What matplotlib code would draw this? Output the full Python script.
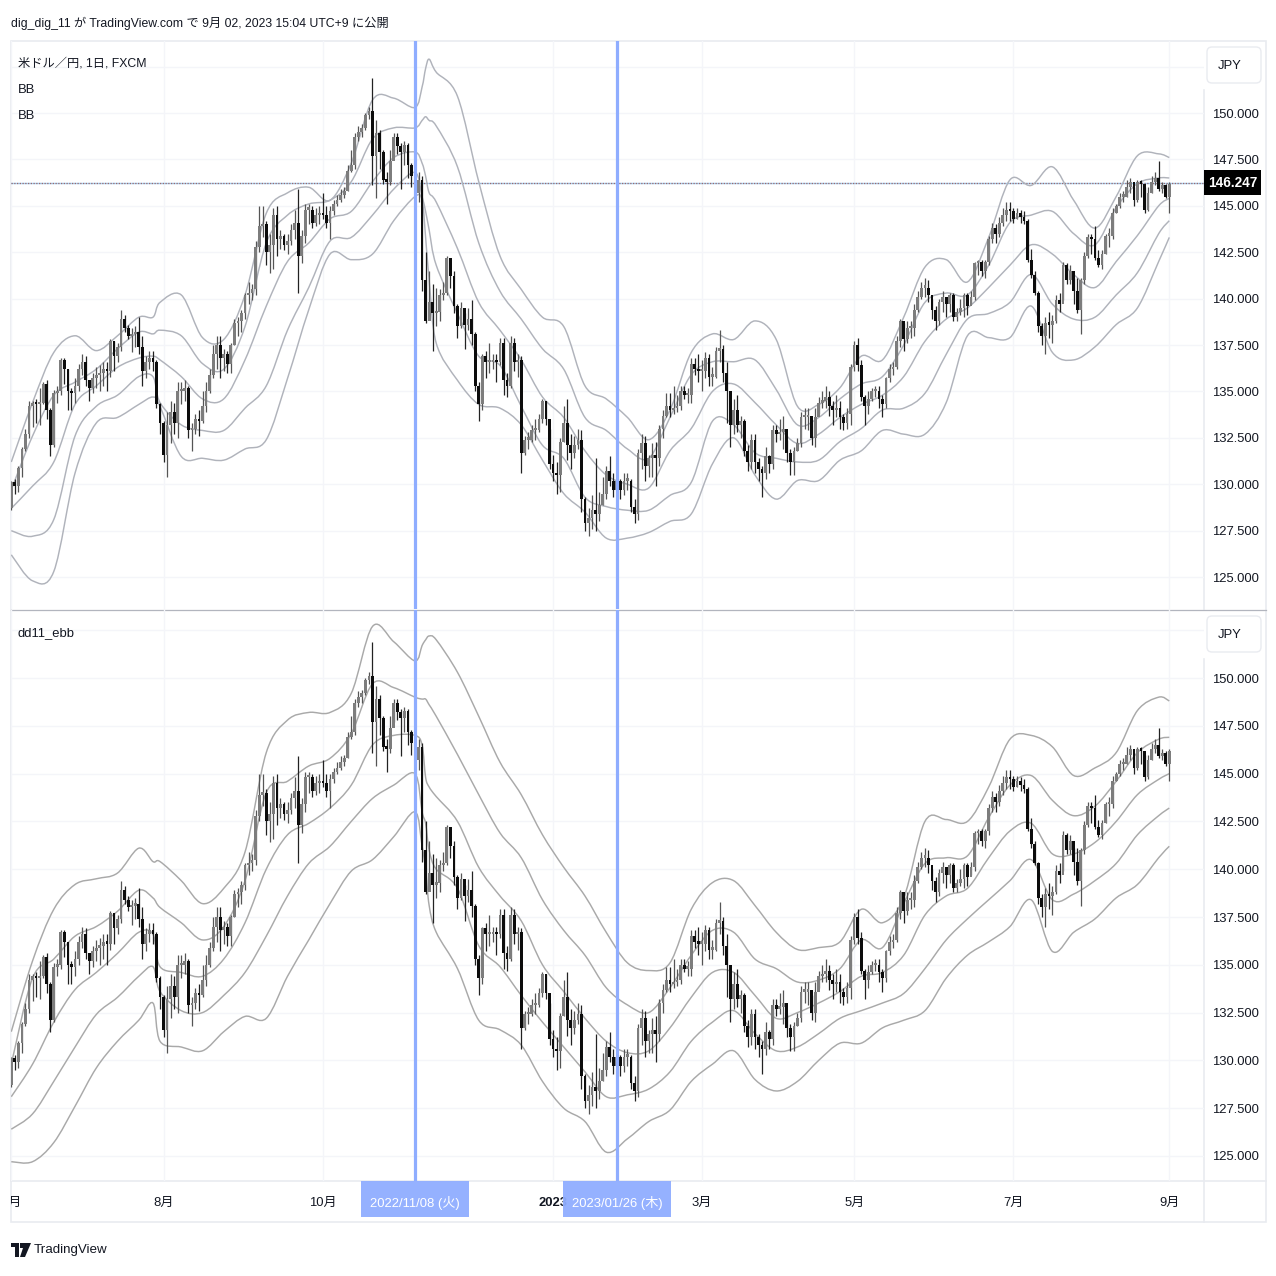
import matplotlib
matplotlib.use("Agg")
import matplotlib.pyplot as plt
from matplotlib.patches import FancyBboxPatch, PathPatch, Polygon, Rectangle
from matplotlib.path import Path

## Font (latin first, CJK for the japanese signs)
FONT = ['Liberation Sans', 'Noto Sans CJK JP', 'DejaVu Sans']
plt.rcParams['font.family'] = FONT

## Daily candles, USD/JPY, price units
first_open = 128.7
closes = [
    130.1, 129.9, 130.9, 131.9, 132.7, 134.2, 134.4, 134.3, 134.4, 135.4, 134.0, 132.1, 134.9, 135.0, 136.7, 136.2,
    135.0, 134.9, 135.3, 136.2, 136.6, 135.6, 135.2, 135.7, 135.9, 136.0, 136.2, 136.1, 137.7, 136.9, 137.4, 138.9,
    138.4, 138.0, 138.1, 138.2, 137.4, 136.1, 136.6, 136.8, 136.6, 134.3, 133.3, 131.6, 133.2, 133.9, 133.3, 135.0,
    135.0, 135.2, 132.9, 133.0, 133.5, 133.4, 134.2, 135.0, 135.9, 137.0, 137.5, 136.8, 137.0, 136.5, 137.5, 138.7,
    138.8, 139.2, 140.2, 140.3, 140.5, 142.8, 143.9, 144.0, 142.5, 142.9, 144.5, 143.2, 143.4, 142.9, 143.1, 143.7,
    144.1, 142.3, 143.4, 144.8, 144.8, 144.1, 144.5, 144.6, 144.5, 144.1, 144.7, 145.1, 145.3, 145.6, 145.8, 146.9,
    147.2, 148.7, 149.0, 149.2, 149.9, 150.1, 147.7, 148.9, 147.9, 146.4, 146.3, 147.4, 148.7, 148.2, 147.9, 148.3,
    147.2, 146.6, 145.7, 146.4, 141.0, 138.8, 139.8, 139.2, 139.3, 140.2, 140.3, 142.2, 141.2, 139.6, 138.5, 139.5,
    138.6, 138.9, 138.1, 135.3, 134.3, 136.9, 136.6, 136.6, 136.7, 136.6, 137.6, 135.6, 135.3, 137.6, 136.6, 136.7,
    131.7, 132.4, 132.4, 132.9, 132.9, 133.5, 134.5, 133.5, 131.1, 130.6, 130.5, 132.3, 133.3, 132.1, 131.7, 132.1,
    132.4, 129.2, 127.9, 128.2, 128.6, 128.4, 128.9, 129.5, 130.7, 130.2, 129.7, 130.2, 129.7, 130.2, 130.2, 128.8,
    128.4, 131.7, 132.2, 131.0, 131.4, 131.6, 131.4, 133.0, 133.7, 134.2, 134.0, 134.1, 134.2, 135.0, 134.8, 134.8,
    136.5, 136.2, 136.1, 136.1, 136.8, 135.8, 135.8, 137.2, 137.3, 136.0, 135.0, 133.2, 134.0, 133.2, 133.4, 131.8,
    131.2, 132.4, 131.2, 130.8, 130.6, 131.5, 131.1, 132.9, 132.7, 132.8, 133.0, 131.7, 131.2, 131.8, 132.2, 133.6,
    133.6, 133.7, 132.5, 133.6, 134.4, 134.5, 134.7, 134.2, 134.0, 134.1, 133.6, 133.3, 133.8, 136.3, 137.5, 136.4,
    134.7, 134.2, 134.6, 135.0, 135.0, 134.6, 134.3, 135.7, 136.2, 136.3, 137.7, 138.8, 137.8, 138.4, 138.4, 139.4,
    140.1, 140.6, 140.6, 140.2, 139.4, 138.8, 139.8, 140.1, 139.7, 140.2, 139.0, 139.3, 139.5, 140.2, 139.6, 140.1,
    141.9, 142.0, 141.5, 142.0, 143.2, 143.8, 143.5, 144.1, 144.5, 144.8, 144.7, 144.3, 144.6, 144.4, 144.2, 142.1,
    141.3, 140.3, 138.5, 138.0, 138.7, 138.6, 138.8, 139.9, 139.7, 141.8, 141.0, 141.5, 140.4, 139.4, 141.0, 142.3,
    143.3, 143.2, 142.2, 141.8, 142.4, 143.4, 143.4, 144.6, 145.0, 145.5, 145.5, 146.0, 146.3, 145.3, 146.3, 146.2,
    144.8, 145.7, 146.3, 146.5, 145.9, 146.1, 145.5, 146.2,
]
highs = [
    130.2, 130.3, 131.0, 132.0, 133.0, 134.5, 134.5, 134.6, 135.2, 135.5, 135.6, 134.1, 135.1, 135.3, 136.8, 136.8,
    136.2, 135.2, 135.7, 136.5, 137.0, 136.9, 135.6, 136.0, 136.3, 136.4, 136.6, 136.6, 137.8, 137.7, 137.6, 139.4,
    139.1, 138.6, 138.4, 138.5, 139.0, 138.0, 136.9, 137.2, 137.2, 136.7, 134.4, 133.4, 133.9, 134.5, 134.4, 135.5,
    135.5, 135.6, 135.3, 133.3, 133.8, 134.0, 135.0, 135.5, 136.2, 137.5, 138.0, 138.0, 137.3, 137.2, 137.6, 138.9,
    139.0, 139.4, 140.3, 140.9, 140.8, 143.1, 145.0, 145.0, 144.2, 143.5, 144.9, 145.0, 143.7, 143.5, 143.5, 144.0,
    144.8, 145.9, 143.7, 145.1, 145.1, 145.0, 144.9, 145.0, 145.7, 145.0, 145.0, 145.3, 145.6, 145.9, 146.0, 147.2,
    148.0, 148.9, 149.3, 149.4, 150.0, 150.3, 151.9, 149.6, 149.1, 148.0, 146.8, 148.0, 148.9, 148.9, 148.4, 148.5,
    148.4, 147.3, 146.9, 146.8, 146.6, 142.5, 141.5, 140.8, 140.6, 140.5, 140.9, 142.3, 142.2, 141.5, 139.7, 139.8,
    139.2, 139.5, 139.9, 138.2, 135.5, 137.0, 137.2, 137.6, 137.0, 137.0, 137.9, 137.9, 136.0, 138.0, 137.9, 137.0,
    136.9, 132.6, 132.8, 133.2, 133.5, 133.8, 134.6, 134.5, 133.0, 131.6, 131.2, 132.5, 134.2, 134.6, 132.7, 132.6,
    133.0, 132.9, 129.3, 128.7, 129.4, 131.4, 129.6, 130.4, 131.0, 131.5, 130.6, 130.8, 130.3, 130.6, 130.6, 130.3,
    129.2, 131.9, 132.7, 132.6, 131.6, 132.2, 132.3, 133.2, 134.0, 134.9, 134.9, 135.3, 134.8, 135.3, 135.3, 135.2,
    136.8, 136.8, 137.0, 136.7, 137.1, 137.0, 136.3, 137.4, 138.3, 137.5, 136.6, 134.6, 134.6, 134.8, 133.7, 133.5,
    132.1, 132.7, 132.7, 131.4, 131.0, 132.0, 131.6, 133.2, 133.2, 133.5, 133.7, 132.4, 131.9, 132.0, 132.5, 133.9,
    134.1, 134.1, 133.4, 134.1, 134.7, 135.0, 135.3, 135.0, 134.5, 134.8, 134.5, 133.8, 134.1, 136.5, 137.7, 137.9,
    136.7, 134.8, 135.0, 135.2, 135.3, 135.3, 134.8, 135.8, 136.5, 136.6, 138.0, 138.9, 138.7, 138.8, 138.8, 139.7,
    140.4, 140.9, 141.1, 141.0, 140.0, 139.6, 140.0, 140.4, 140.0, 140.3, 140.3, 139.5, 140.0, 140.3, 140.3, 140.4,
    142.0, 142.1, 142.1, 142.1, 143.4, 144.1, 144.0, 144.4, 144.9, 145.2, 145.2, 144.9, 144.9, 144.8, 144.7, 144.3,
    142.7, 141.5, 140.4, 138.7, 139.0, 139.3, 139.1, 140.2, 140.3, 142.0, 141.9, 141.8, 141.1, 141.1, 141.1, 142.5,
    143.5, 143.5, 143.9, 142.6, 142.6, 143.5, 143.8, 144.9, 145.1, 145.7, 145.8, 146.4, 146.5, 146.0, 146.4, 146.4,
    146.0, 146.0, 146.6, 146.8, 147.4, 146.3, 146.2, 146.3,
]
lows = [
    128.6, 129.5, 129.6, 130.4, 131.8, 132.5, 133.1, 133.3, 133.2, 134.3, 133.5, 131.5, 132.0, 134.4, 134.8, 135.4,
    134.0, 134.0, 134.4, 135.0, 135.9, 135.3, 134.5, 134.9, 135.2, 135.0, 135.3, 135.0, 135.8, 136.1, 136.6, 137.2,
    138.2, 137.8, 137.1, 137.4, 137.0, 135.3, 135.7, 136.2, 136.1, 134.1, 132.7, 131.2, 130.4, 132.2, 132.7, 132.5,
    134.3, 134.5, 132.5, 131.8, 132.7, 132.6, 133.3, 133.9, 134.9, 135.7, 136.2, 135.7, 136.1, 136.0, 136.0, 137.5,
    138.0, 138.2, 138.9, 139.7, 139.9, 140.2, 142.5, 143.3, 141.8, 141.4, 141.6, 142.3, 142.7, 142.6, 142.4, 142.9,
    143.2, 140.3, 141.9, 143.0, 144.0, 143.8, 143.9, 144.0, 144.3, 143.8, 143.2, 144.5, 145.0, 145.2, 145.4, 145.8,
    146.8, 147.0, 148.5, 148.7, 149.1, 149.7, 146.1, 145.4, 147.0, 146.2, 145.1, 146.1, 147.7, 147.8, 145.9, 147.2,
    146.5, 146.0, 145.3, 145.2, 140.4, 138.7, 138.9, 137.2, 138.5, 138.8, 139.9, 140.2, 140.6, 139.2, 137.9, 138.4,
    137.3, 138.3, 137.5, 135.0, 133.4, 134.0, 135.7, 136.0, 136.2, 135.5, 136.4, 134.8, 134.7, 135.2, 136.1, 135.8,
    130.6, 131.6, 131.9, 132.3, 132.4, 132.8, 133.3, 133.2, 130.8, 130.2, 129.5, 129.6, 132.3, 131.3, 130.8, 131.4,
    131.9, 128.5, 127.5, 127.2, 127.6, 127.5, 128.0, 128.9, 129.2, 129.9, 129.3, 129.0, 129.2, 129.4, 129.7, 128.5,
    127.9, 128.1, 130.8, 130.2, 130.4, 130.4, 129.9, 131.0, 132.5, 133.6, 133.6, 133.8, 133.9, 134.0, 134.6, 134.4,
    134.4, 135.9, 135.5, 135.0, 135.7, 135.3, 135.3, 135.7, 136.6, 135.5, 133.3, 132.0, 132.7, 132.8, 132.5, 131.5,
    130.7, 130.8, 130.6, 130.2, 129.3, 130.3, 130.6, 130.8, 132.3, 132.4, 131.9, 131.2, 130.5, 130.5, 131.8, 132.0,
    133.0, 132.9, 132.1, 132.0, 133.8, 134.1, 134.1, 133.7, 133.2, 133.6, 133.0, 132.9, 133.0, 133.2, 136.1, 136.1,
    134.5, 133.2, 133.8, 134.5, 134.7, 134.1, 133.6, 134.1, 135.5, 135.9, 136.2, 137.4, 137.2, 137.6, 137.9, 138.0,
    139.3, 140.0, 140.1, 139.8, 138.9, 138.3, 138.6, 139.3, 139.0, 139.3, 138.8, 138.8, 139.1, 139.0, 139.1, 139.7,
    139.9, 141.3, 141.2, 141.1, 141.8, 143.0, 143.0, 143.3, 143.9, 144.2, 144.2, 144.1, 144.3, 144.1, 144.0, 142.0,
    141.1, 140.2, 138.2, 137.5, 137.0, 137.9, 137.6, 138.7, 139.3, 139.9, 140.8, 140.8, 139.7, 139.2, 138.1, 140.8,
    142.2, 142.4, 142.1, 141.7, 141.6, 142.4, 142.8, 143.2, 144.6, 144.9, 145.2, 145.5, 145.7, 145.0, 145.2, 145.5,
    144.6, 144.7, 145.7, 146.1, 145.8, 145.7, 145.4, 144.6,
]
opens = [first_open] + closes[:-1]

## Band lines, read about every 6 bars, closer around the sharp turns
band_bars = [0, 6, 12, 18, 24, 30, 36, 40, 42, 48, 54, 60, 66, 72, 78, 84, 90, 96, 102, 108, 114, 116, 117, 118,
             120, 126, 132, 138, 144, 150, 156, 162, 168, 174, 180, 186, 192, 198, 204, 210, 216, 222,
             228, 234, 240, 246, 252, 258, 264, 270, 276, 282, 288, 294, 300, 306, 312, 318, 324, 327]

top_bands = [
    [131.2, 134.4, 137.1, 138.0, 137.2, 138.0, 139.0, 139.0, 139.8, 140.2, 137.9, 137.8, 140.2, 144.6, 145.7, 146.0, 145.3, 147.3, 150.7, 150.8, 150.3, 151.4, 152.4, 152.9,
     152.2, 150.9, 146.3, 142.3, 140.5, 139.0, 138.5, 135.3, 134.6, 133.6, 132.4, 134.0, 137.1, 138.1, 137.8, 138.8, 137.8, 134.2,
     134.3, 135.2, 136.9, 136.7, 139.0, 141.7, 142.1, 140.9, 143.3, 146.4, 146.1, 147.1, 145.3, 143.8, 145.5, 147.7, 147.8, 147.6],
    [129.7, 132.6, 134.8, 135.5, 136.2, 137.3, 138.2, 138.1, 138.3, 138.0, 136.5, 136.2, 138.5, 143.0, 144.5, 145.1, 145.3, 146.3, 148.6, 149.2, 149.2, 149.6, 149.8, 149.6,
     149.3, 147.1, 143.0, 140.4, 138.9, 137.3, 136.2, 133.6, 132.9, 131.9, 131.4, 133.6, 135.9, 136.6, 136.6, 136.7, 135.1, 133.2,
     133.6, 134.6, 135.4, 135.8, 137.5, 139.8, 140.3, 140.2, 141.8, 144.1, 144.5, 144.7, 143.5, 142.9, 144.9, 146.2, 146.5, 146.5],
    [128.7, 129.9, 131.2, 134.3, 135.3, 136.3, 136.8, 136.9, 136.7, 135.8, 134.6, 134.6, 136.7, 139.6, 142.0, 143.0, 144.3, 144.7, 146.3, 147.6, 147.9, 147.3, 146.6, 145.7,
     145.2, 142.7, 139.8, 138.3, 136.7, 134.7, 133.6, 131.8, 130.5, 130.0, 129.8, 131.8, 133.0, 135.0, 135.4, 134.4, 133.2, 132.2,
     132.7, 133.6, 134.3, 134.8, 135.8, 137.7, 138.9, 139.5, 140.6, 141.8, 142.9, 142.4, 141.3, 140.6, 142.0, 143.4, 145.0, 145.4],
    [127.5, 127.2, 128.1, 132.6, 134.2, 134.8, 135.8, 135.8, 134.4, 133.2, 132.9, 132.9, 134.1, 135.3, 138.3, 140.6, 143.1, 143.3, 144.5, 145.9, 146.8, 145.5, 144.7, 143.7,
     141.8, 139.2, 136.9, 136.4, 134.2, 132.1, 131.4, 129.3, 128.8, 128.6, 128.6, 129.4, 130.1, 133.4, 133.2, 131.7, 131.4, 131.2,
     131.3, 132.3, 133.0, 134.0, 134.1, 134.9, 137.0, 138.9, 139.2, 139.8, 141.3, 139.7, 138.9, 139.0, 140.2, 141.4, 143.5, 144.2],
    [126.2, 124.8, 125.3, 130.6, 133.3, 133.6, 134.3, 134.7, 134.2, 131.5, 131.4, 131.3, 131.9, 132.4, 135.7, 139.4, 142.4, 142.1, 142.4, 144.2, 145.5, 145.3, 143.3, 141.0,
     137.6, 135.6, 134.3, 134.1, 133.2, 131.3, 129.5, 128.5, 127.1, 127.1, 127.4, 128.0, 128.4, 131.1, 132.5, 130.5, 129.2, 130.2,
     130.2, 131.3, 131.8, 132.9, 132.7, 132.7, 134.4, 138.0, 137.9, 137.9, 139.6, 137.1, 136.7, 137.4, 138.6, 139.5, 142.0, 143.3],
]

bottom_bands = [
    [131.5, 135.2, 137.9, 139.2, 139.5, 139.8, 141.1, 140.4, 140.4, 139.4, 138.2, 139.0, 140.9, 146.1, 147.8, 148.2, 148.2, 149.2, 152.7, 151.9, 150.9, 151.7, 152.0, 152.2,
     152.0, 150.3, 148.0, 145.6, 143.9, 141.8, 140.1, 138.6, 136.7, 135.1, 134.7, 135.1, 137.9, 139.3, 139.4, 138.1, 136.7, 135.8,
     135.9, 136.2, 137.9, 137.2, 138.5, 142.5, 142.6, 142.5, 144.3, 146.8, 147.0, 146.4, 144.9, 145.3, 146.1, 148.3, 149.0, 148.8],
    [129.8, 134.3, 135.3, 136.5, 137.0, 137.8, 138.9, 138.5, 138.0, 137.2, 136.3, 137.0, 139.4, 144.0, 144.6, 145.4, 145.8, 147.1, 149.7, 149.5, 149.0, 148.9, 148.9, 148.6,
     148.0, 146.0, 143.9, 141.9, 140.6, 138.4, 136.8, 135.5, 133.8, 132.9, 132.5, 133.8, 135.5, 136.8, 136.7, 135.3, 134.8, 134.1,
     134.2, 134.8, 136.3, 135.9, 138.2, 140.3, 140.6, 140.7, 142.7, 144.4, 144.9, 143.6, 142.8, 143.3, 144.6, 146.1, 146.8, 146.9],
    [128.1, 129.8, 132.0, 133.7, 134.6, 135.6, 136.7, 136.6, 134.9, 134.6, 134.4, 135.3, 137.2, 140.0, 141.8, 142.4, 143.2, 144.4, 146.5, 147.0, 147.0, 146.5, 144.8, 144.3,
     143.8, 142.5, 140.1, 138.6, 137.3, 135.0, 133.6, 132.2, 131.0, 130.4, 130.5, 131.7, 133.3, 134.6, 134.6, 133.4, 132.2, 132.5,
     133.0, 133.6, 134.4, 134.6, 135.5, 137.6, 138.6, 139.0, 140.6, 142.0, 142.4, 140.8, 140.8, 141.4, 142.5, 143.9, 144.7, 145.0],
    [126.4, 127.2, 128.9, 130.7, 132.4, 133.3, 134.4, 134.9, 133.6, 132.6, 132.5, 133.4, 134.6, 136.5, 138.6, 140.3, 141.2, 142.5, 143.7, 144.4, 145.0, 143.0, 142.4, 141.0,
     140.0, 139.0, 136.0, 134.9, 133.4, 132.0, 130.7, 129.4, 128.1, 128.2, 128.5, 129.4, 131.0, 132.0, 132.6, 131.4, 130.5, 130.7,
     131.4, 132.2, 132.6, 133.0, 133.5, 134.8, 136.3, 137.4, 138.4, 139.4, 140.5, 138.4, 138.7, 139.4, 140.3, 141.8, 142.8, 143.2],
    [124.7, 124.7, 125.7, 127.6, 129.6, 131.0, 132.1, 133.0, 131.0, 130.7, 130.5, 131.5, 132.3, 132.2, 134.4, 136.3, 138.2, 139.9, 140.5, 141.7, 143.0, 141.2, 140.0, 138.1,
     136.7, 134.8, 132.1, 131.6, 130.8, 128.9, 127.5, 126.8, 125.2, 125.9, 126.8, 127.4, 128.9, 129.8, 130.5, 129.0, 128.4, 128.9,
     130.0, 130.9, 130.9, 131.7, 132.1, 132.6, 134.3, 135.5, 136.2, 137.0, 138.4, 135.7, 136.7, 137.4, 138.5, 139.2, 140.6, 141.2],
]

## Axis labels and marks
price_ticks = [125, 127.5, 130, 132.5, 135, 137.5, 140, 142.5, 145, 147.5, 150]
price_top_extra = [152.5]
month_bars = [0, 43, 88, 153, 195, 238, 283, 327]
month_names = ['6月', '8月', '10月', '2023', '3月', '5月', '7月', '9月']
marked_bars = [114, 171]
marked_dates = ['2022/11/08 (火)', '2023/01/26 (木)']
last_price = 146.247

BLUE = '#8fadff'
TEXT = '#131722'
FRAME = '#e9ebf0'
GRID = '#f4f5f9'
FS = 9.4
W = 1276
XLIM = (-0.08, 336.8)

fig = plt.figure(figsize=(12.76, 12.76), dpi=100, facecolor='white')


def pane(y0, y1, x0=11, x1=1204):
    return fig.add_axes([x0 / W, 1 - y1 / W, (x1 - x0) / W, (y1 - y0) / W])


def smooth_band(ax, xs, ys, color):
    # round curve through the read points
    verts = [(xs[0], ys[0])]
    codes = [Path.MOVETO]
    n = len(xs)
    for i in range(n - 1):
        a, b = max(i - 1, 0), min(i + 2, n - 1)
        verts.append((xs[i] + (xs[i + 1] - xs[a]) / 6, ys[i] + (ys[i + 1] - ys[a]) / 6))
        verts.append((xs[i + 1] - (xs[b] - xs[i]) / 6, ys[i + 1] - (ys[b] - ys[i]) / 6))
        verts.append((xs[i + 1], ys[i + 1]))
        codes += [Path.CURVE4] * 3
    ax.add_patch(PathPatch(Path(verts, codes), fill=False, ec=color, lw=1.05, zorder=2))


def draw_pane(ax, ylim, bands, band_color):
    ax.set_xlim(*XLIM)
    ax.set_ylim(*ylim)
    ax.set_facecolor('none')
    for s in ax.spines.values():
        s.set_visible(False)
    ax.set_axisbelow(True)
    ax.set_xticks(month_bars)
    ax.set_xticklabels([])
    ax.yaxis.tick_right()
    ax.set_yticks(price_ticks + price_top_extra)
    ax.set_yticklabels(['%.3f' % p if p < 152 else '' for p in price_ticks + price_top_extra], fontsize=FS, color=TEXT)
    ax.tick_params(axis='both', length=0)
    ax.tick_params(axis='y', pad=5.5)
    ax.grid(True, color=GRID, lw=1)

    for band in bands:
        smooth_band(ax, band_bars, band, band_color)

    # candles
    xs = range(len(closes))
    up = [c >= o for o, c in zip(opens, closes)]
    ax.vlines(xs, lows, highs, colors=['#555555' if u else '#222222' for u in up], lw=0.9, zorder=3)
    bottoms = [min(o, c) for o, c in zip(opens, closes)]
    heights = [max(abs(c - o), 0.12) for o, c in zip(opens, closes)]
    ax.bar(xs, heights, bottom=bottoms, width=0.78, color=['#7d7d7d' if u else '#0c0c0c' for u in up], zorder=4)

    for b in marked_bars:
        ax.axvline(b, color=BLUE, lw=2.3, zorder=5)


ax_top = pane(41, 609)
ax_bottom = pane(610, 1181)
draw_pane(ax_top, (123.28, 153.88), top_bands, '#b0b3bb')
draw_pane(ax_bottom, (123.69, 153.56), bottom_bands, '#a9a9a9')

# last price line
ax_top.axhline(last_price, color='#9fd0f5', lw=1, zorder=1)
ax_top.axhline(last_price, color='#a06a6a', lw=0.9, ls=(0, (1, 1.2)), zorder=1)

## Time axis strip, same bars as the panes
ax_time = pane(1181, 1222)
ax_time.set_xlim(*XLIM)
ax_time.set_ylim(1, 0)
ax_time.axis('off')
for b, name in zip(month_bars, month_names):
    ax_time.text(b, 0.53, name, ha='center', va='center', fontsize=FS, color=TEXT,
                 fontweight='bold' if name == '2023' else 'normal', clip_on=True, zorder=1)
for b, date in zip(marked_bars, marked_dates):
    ax_time.bar(b, 0.88, bottom=0, width=30.4, color=BLUE, alpha=0.95, zorder=2)
    ax_time.text(b, 0.53, date, ha='center', va='center', fontsize=FS, color='white', zorder=3)

## Page furniture in pixel coordinates
ax_page = fig.add_axes([0, 0, 1, 1], zorder=-1)
ax_page.set_xlim(0, W)
ax_page.set_ylim(W, 0)
ax_page.axis('off')
ax_page.add_patch(Rectangle((11, 41), 1255, 1181, fill=False, ec=FRAME, lw=1.2))
ax_page.plot([1204, 1204], [90, 609], color=FRAME, lw=1.2)
ax_page.plot([1204, 1204], [659, 1222], color=FRAME, lw=1.2)
ax_page.plot([11, 1266], [609.5, 609.5], color='#b2b5be', lw=0.9)
ax_page.plot([11, 1266], [1181, 1181], color=FRAME, lw=1.2)

ax_over = fig.add_axes([0, 0, 1, 1], zorder=10)
ax_over.set_xlim(0, W)
ax_over.set_ylim(W, 0)
ax_over.axis('off')
ax_over.patch.set_alpha(0)
for y in [47, 616]:
    ax_over.add_patch(FancyBboxPatch((1210, y + 3), 48, 30, boxstyle='round,pad=3,rounding_size=5',
                                     fc='white', ec='#e9ebf0', lw=1))
    ax_over.text(1218, y + 19, 'JPY', va='center', fontsize=FS, color=TEXT)

ax_over.add_patch(Rectangle((1204, 170), 57, 25, fc='black', ec='none'))
ax_over.text(1233, 183, '%.3f' % last_price, ha='center', va='center', fontsize=9.8, color='white', fontweight='bold')

ax_over.text(11, 23, 'dig_dig_11 が TradingView.com で 9月 02, 2023 15:04 UTC+9 に公開', va='center', fontsize=8.8, color=TEXT)
ax_over.text(18, 64, '米ドル／円, 1日, FXCM', va='center', fontsize=8.8, color=TEXT)
ax_over.text(18, 90, 'BB', va='center', fontsize=FS, color=TEXT)
ax_over.text(18, 116, 'BB', va='center', fontsize=FS, color=TEXT)
ax_over.text(18, 633, 'dd11_ebb', va='center', fontsize=FS, color=TEXT)

# TradingView logo
ax_over.add_patch(Polygon([(11, 1243), (19, 1243), (19, 1257), (15, 1257), (15, 1247), (11, 1247)], fc=TEXT, ec='none'))
ax_over.add_patch(Polygon([(20, 1243), (31, 1243), (25, 1257), (20, 1257), (23, 1248), (20, 1248)], fc=TEXT, ec='none'))
ax_over.text(34, 1250, 'TradingView', va='center', fontsize=9.6, color=TEXT)

fig.savefig('out.png', dpi=100)
